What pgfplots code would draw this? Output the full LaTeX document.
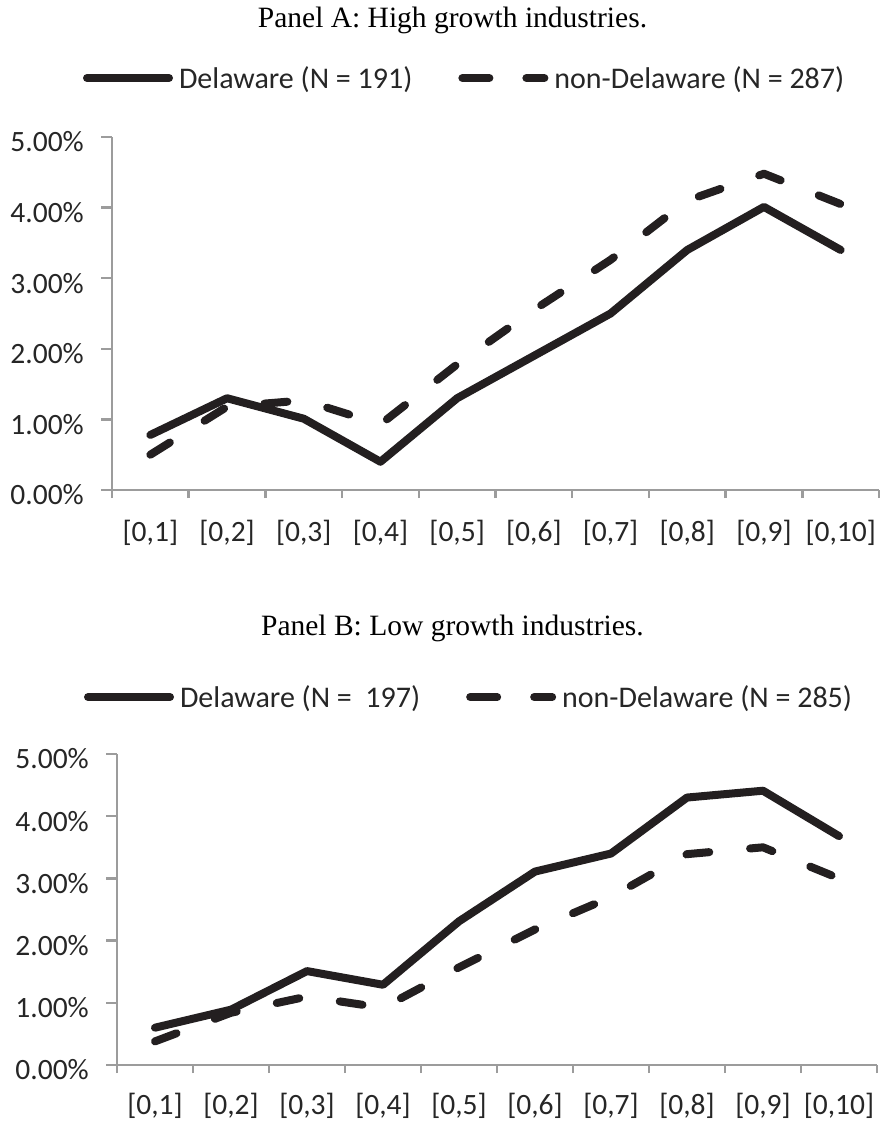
\documentclass[border=0pt]{standalone}
\usepackage{pgfplots}
\pgfplotsset{compat=1.18}
\usepackage{fontspec}
\setmainfont{Carlito}
\newfontfamily\timesfont{Liberation Serif}
\definecolor{ink}{HTML}{231F20}
\definecolor{axgray}{HTML}{9C9C9C}
\definecolor{txt}{HTML}{262626}

\pgfplotsset{
  panel/.style={
    scale only axis,
    xmin=0.5, xmax=10.5, ymin=0, ymax=5,
    axis x line*=bottom, axis y line*=left,
    axis line style={axgray, line width=2.5pt},
    xtick={1,2,3,4,5,6,7,8,9,10},
    xticklabels={{[0,1]},{[0,2]},{[0,3]},{[0,4]},{[0,5]},{[0,6]},{[0,7]},{[0,8]},{[0,9]},{[0,10]}},
    minor xtick={0.5,1.5,2.5,3.5,4.5,5.5,6.5,7.5,8.5,9.5,10.5},
    ytick={0,1,2,3,4,5},
    yticklabels={0.00\%,1.00\%,2.00\%,3.00\%,4.00\%,5.00\%},
    tick align=outside,
    tick style={axgray, line width=2.5pt},
    major x tick style={draw=none},
    major tick length=11pt, minor tick length=8pt,
    tick label style={font=\fontsize{29.5}{34}\selectfont, text=txt, inner sep=0pt},
    yticklabel style={anchor=east, xshift=-17pt, yshift=-5pt},
    clip=false,
    legend columns=2,
    legend style={draw=none, fill=none, inner sep=0pt, outer sep=0pt, anchor=west,
      font=\fontsize{30}{34}\selectfont, text=txt,
      nodes={inner sep=0pt},
      /tikz/every odd column/.append style={column sep=6pt},
      /tikz/every even column/.append style={column sep=46pt}},
    legend image code/.code={\path (0pt,0pt) -- (82pt,0pt); \draw[##1] (4pt,0pt) -- (78pt,0pt);},
    title style={font=\timesfont\fontsize{29.5}{34}\selectfont, text=black, anchor=base, inner sep=0pt},
  },
  delaware/.style={ink, line width=8pt, line cap=round, line join=round},
  nondel/.style={ink, line width=8pt, line cap=round, line join=round, dash pattern=on 23pt off 41pt},
}

\pgfplotstableread{
x  del   non
1  0.78  0.50
2  1.30  1.18
3  1.01  1.27
4  0.40  0.93
5  1.30  1.78
6  1.90  2.55
7  2.50  3.26
8  3.40  4.10
9  4.01  4.48
10 3.40  4.05
}\panelA

\pgfplotstableread{
x  del   non
1  0.60  0.38
2  0.89  0.84
3  1.51  1.10
4  1.29  0.92
5  2.31  1.57
6  3.11  2.18
7  3.40  2.70
8  4.30  3.39
9  4.41  3.50
10 3.68  3.00
}\panelB

\begin{document}
\begin{tikzpicture}
\path[use as bounding box] (0pt,0pt) rectangle (882pt,-1121pt);
\begin{axis}[panel,
  at={(112pt,-490pt)}, anchor=south west,
  width=767pt, height=353pt,
  xticklabel style={anchor=base, yshift=-40pt},
  title={Panel A: High growth industries.},
  title style={at={(axis description cs:0.444,1.292)}},
  legend style={at={(axis description cs:-0.0378,1.167)}},
]
\addplot[delaware] table[x=x,y=del] {\panelA};
\addlegendentry{Delaware (N = 191)}
\addplot[nondel] table[x=x,y=non] {\panelA};
\addlegendentry{non-Delaware (N = 287)}
\end{axis}
\begin{axis}[panel,
  at={(117pt,-1065pt)}, anchor=south west,
  width=760pt, height=311pt,
  xticklabel style={anchor=base, yshift=-38pt},
  title={Panel B: Low growth industries.},
  title style={at={(axis description cs:0.4414,1.363)}},
  legend style={at={(axis description cs:-0.0434,1.183)}},
]
\addplot[delaware] table[x=x,y=del] {\panelB};
\addlegendentry{Delaware (N =\ \ 197)}
\addplot[nondel] table[x=x,y=non] {\panelB};
\addlegendentry{non-Delaware (N = 285)}
\end{axis}
\end{tikzpicture}
\end{document}
